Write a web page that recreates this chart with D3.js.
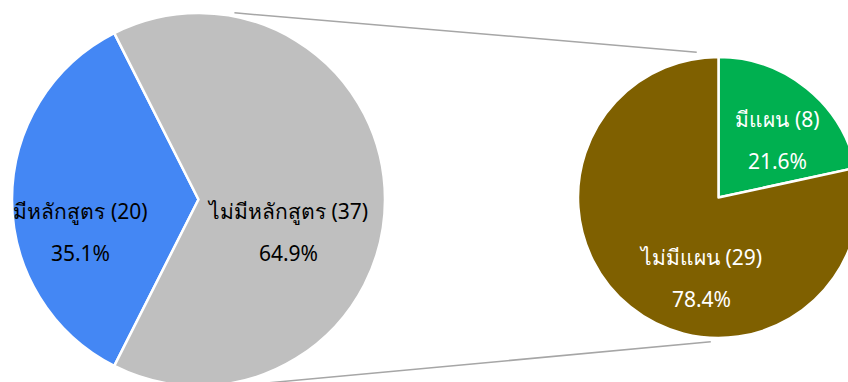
<!DOCTYPE html>
<html>
<head>
<meta charset="utf-8">
<script src="https://cdn.jsdelivr.net/npm/d3@7"></script>
<style>
  body { margin: 0; background: #fff; }
  svg text { font-family: Tahoma, "Noto Sans", "DejaVu Sans", sans-serif; font-size: 21px; }
</style>
</head>
<body>
<div id="chart"></div>
<script>
var w = 848;
var h = 382;

// main pie
var mainNames = ["มีหลักสูตร", "ไม่มีหลักสูตร"];
var mainValues = [20, 37];
var mainColors = ["#4487f4", "#bfbfbf"];

// breakdown of "ไม่มีหลักสูตร"
var subNames = ["มีแผน", "ไม่มีแผน"];
var subValues = [8, 29];
var subColors = ["#00b050", "#7f6000"];

var big = {x: 198.5, y: 199.5, r: 186.5};
var small = {x: 718.5, y: 197.5, r: 140.5};

var svg = d3.select("#chart")
            .append("svg")
            .attr("width", w)
            .attr("height", h);

var fmt = d3.format(".1%");

// connector lines (outer tangents of both circles)
function tangent(c1, c2, side) {
  var dx = c2.x - c1.x, dy = c2.y - c1.y;
  var L = Math.sqrt(dx*dx + dy*dy);
  var ux = dx / L, uy = dy / L;
  var a = (c1.r - c2.r) / L;
  var b = side * Math.sqrt(1 - a*a);
  var nx = a*ux - b*uy, ny = a*uy + b*ux;
  return {
    p1: [c1.x + (c1.r + 2.5) * nx, c1.y + (c1.r + 2.5) * ny],
    p2: [c2.x + (c2.r + 2.5) * nx, c2.y + (c2.r + 2.5) * ny]
  };
}

var connectors = [
  {t: tangent(big, small, -1), s1: 20, s2: 34},
  {t: tangent(big, small, 1), s1: 20, s2: 21}
];

svg.selectAll(".connector")
   .data(connectors)
   .enter()
   .append("line")
   .attr("class", "connector")
   .each(function(d) {
     var p1 = d.t.p1, p2 = d.t.p2;
     var lx = p2[0] - p1[0], ly = p2[1] - p1[1];
     var l = Math.sqrt(lx*lx + ly*ly);
     lx /= l; ly /= l;
     d3.select(this)
       .attr("x1", p1[0] + d.s1 * lx)
       .attr("y1", p1[1] + d.s1 * ly)
       .attr("x2", p2[0] - d.s2 * lx)
       .attr("y2", p2[1] - d.s2 * ly);
   })
   .attr("stroke", "#a6a6a6")
   .attr("stroke-width", 1.5);

// big pie: the broken-out slice is centred on the right side
var grayShare = mainValues[1] / d3.sum(mainValues);
var bigStart = Math.PI / 2 + Math.PI * grayShare;

var bigPie = d3.pie().sort(null)
               .startAngle(bigStart)
               .endAngle(bigStart + 2 * Math.PI);

var subPie = d3.pie().sort(null);

var bigArc = d3.arc().innerRadius(0).outerRadius(big.r);
var smallArc = d3.arc().innerRadius(0).outerRadius(small.r);

var gBig = svg.append("g").attr("transform", "translate(" + big.x + "," + big.y + ")");
var gSmall = svg.append("g").attr("transform", "translate(" + small.x + "," + small.y + ")");

var bigArcs = bigPie(mainValues);
var smallArcs = subPie(subValues);

gBig.selectAll("path")
    .data(bigArcs)
    .enter()
    .append("path")
    .attr("d", bigArc)
    .attr("fill", function(d, i) { return mainColors[i]; })
    .attr("stroke", "#fff")
    .attr("stroke-width", 2.5)
    .attr("stroke-linejoin", "round");

gSmall.selectAll("path")
    .data(smallArcs)
    .enter()
    .append("path")
    .attr("d", smallArc)
    .attr("fill", function(d, i) { return subColors[i]; })
    .attr("stroke", "#fff")
    .attr("stroke-width", 2.5)
    .attr("stroke-linejoin", "round");

// label placement relative to each pie centre
var bigLabelPos = [[-118, 19], [90, 19]];
var smallLabelPos = [[59, -71], [-17, 67]];

function addLabels(g, arcs, names, values, pos, color) {
  var total = d3.sum(values);
  var lab = g.selectAll(".lab")
     .data(arcs)
     .enter()
     .append("text")
     .attr("class", "lab")
     .attr("text-anchor", "middle")
     .attr("fill", color)
     .attr("transform", function(d, i) { return "translate(" + pos[i][0] + "," + pos[i][1] + ")"; });
  lab.append("tspan")
     .attr("x", 0)
     .attr("y", 0)
     .text(function(d, i) { return names[i] + " (" + values[i] + ")"; });
  lab.append("tspan")
     .attr("x", 0)
     .attr("y", 42)
     .text(function(d, i) { return fmt(values[i] / total); });
}

addLabels(gBig, bigArcs, mainNames, mainValues, bigLabelPos, "#000");
addLabels(gSmall, smallArcs, subNames, subValues, smallLabelPos, "#fff");
</script>
</body>
</html>
